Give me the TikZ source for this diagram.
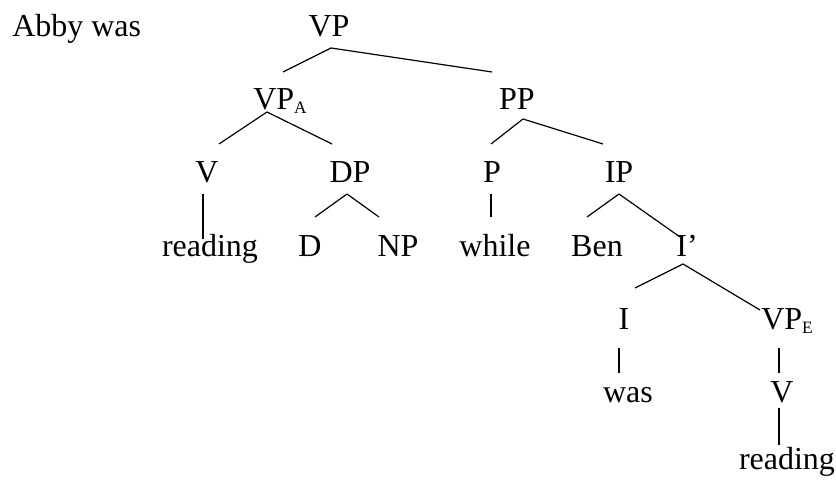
\documentclass[tikz,border=0pt]{standalone}
\usepackage{fontspec}
\setmainfont{Liberation Serif}
\usepackage{tikz}
\usetikzlibrary{positioning,calc}
\newcommand{\sub}[1]{\raisebox{-2.3pt}{\fontsize{13}{13}\selectfont #1}}

\begin{document}
\begin{tikzpicture}[x=0.75pt,y=-0.75pt,
    word/.style={inner sep=0pt,anchor=base,font=\fontsize{24}{28}\selectfont},
    branch/.style={line width=0.9pt}]
  \useasboundingbox (0,0) rectangle (836,484);
  % leading words
  \node[word,anchor=base west] (abby) at (12,37) {Abby was};
  % labels, row by row
  \node[word] (vp) at (329,37) {VP};
  \node[word] (vpa) at (280,110) {VP\sub{A}};
  \node[word] (pp) at (517,110) {PP};
  \node[word] (v1) at (207,183) {V};
  \node[word] (dp) at (350,183) {DP};
  \node[word] (p) at (492,183) {P};
  \node[word] (ip) at (619,183) {IP};
  \node[word] (read1) at (210,257) {reading};
  \node[word] (d) at (310,257) {D};
  \node[word] (np) at (398,257) {NP};
  \node[word] (while) at (495,257) {while};
  \node[word] (ben) at (597,257) {Ben};
  \node[word] (ibar) at (687,257) {I’};
  \node[word] (i) at (624,330) {I};
  \node[word] (vpe) at (787,330) {VP\sub{E}};
  \node[word] (was) at (628,403) {was};
  \node[word] (v2) at (782,403) {V};
  \node[word] (read2) at (787,470) {reading};
  % branches
  \draw[branch] ([shift={(2,11)}]vp.base) -- ([shift={(3,-38)}]vpa.base);
  \draw[branch] ([shift={(2,11)}]vp.base) -- ([shift={(-25,-38)}]pp.base);
  \draw[branch] ([shift={(-13,2)}]vpa.base) -- ([shift={(12,-39)}]v1.base);
  \draw[branch] ([shift={(-13,2)}]vpa.base) -- ([shift={(-18,-39)}]dp.base);
  \draw[branch] ([shift={(6,9)}]pp.base) -- ([shift={(-1,-39)}]p.base);
  \draw[branch] ([shift={(6,9)}]pp.base) -- ([shift={(-16,-39)}]ip.base);
  \draw[branch] ([shift={(-4,11)}]v1.base) -- ([shift={(-7,-18)}]read1.base);
  \draw[branch] ([shift={(-3,11)}]dp.base) -- ([shift={(5,-40)}]d.base);
  \draw[branch] ([shift={(-3,11)}]dp.base) -- ([shift={(-19,-40)}]np.base);
  \draw[branch] ([shift={(-1,11)}]p.base) -- ([shift={(-4,-40)}]while.base);
  \draw[branch] ([shift={(0,11)}]ip.base) -- ([shift={(-10,-40)}]ben.base);
  \draw[branch] ([shift={(0,11)}]ip.base) -- ([shift={(-7,-20)}]ibar.base);
  \draw[branch] ([shift={(-4,7)}]ibar.base) -- ([shift={(11,-42)}]i.base);
  \draw[branch] ([shift={(-4,7)}]ibar.base) -- ([shift={(-27,-20)}]vpe.base);
  \draw[branch] ([shift={(-5,18)}]i.base) -- ([shift={(-9,-30)}]was.base);
  \draw[branch] ([shift={(-8,18)}]vpe.base) -- ([shift={(-3,-30)}]v2.base);
  \draw[branch] ([shift={(-3,5)}]v2.base) -- ([shift={(-8,-25)}]read2.base);
\end{tikzpicture}
\end{document}
